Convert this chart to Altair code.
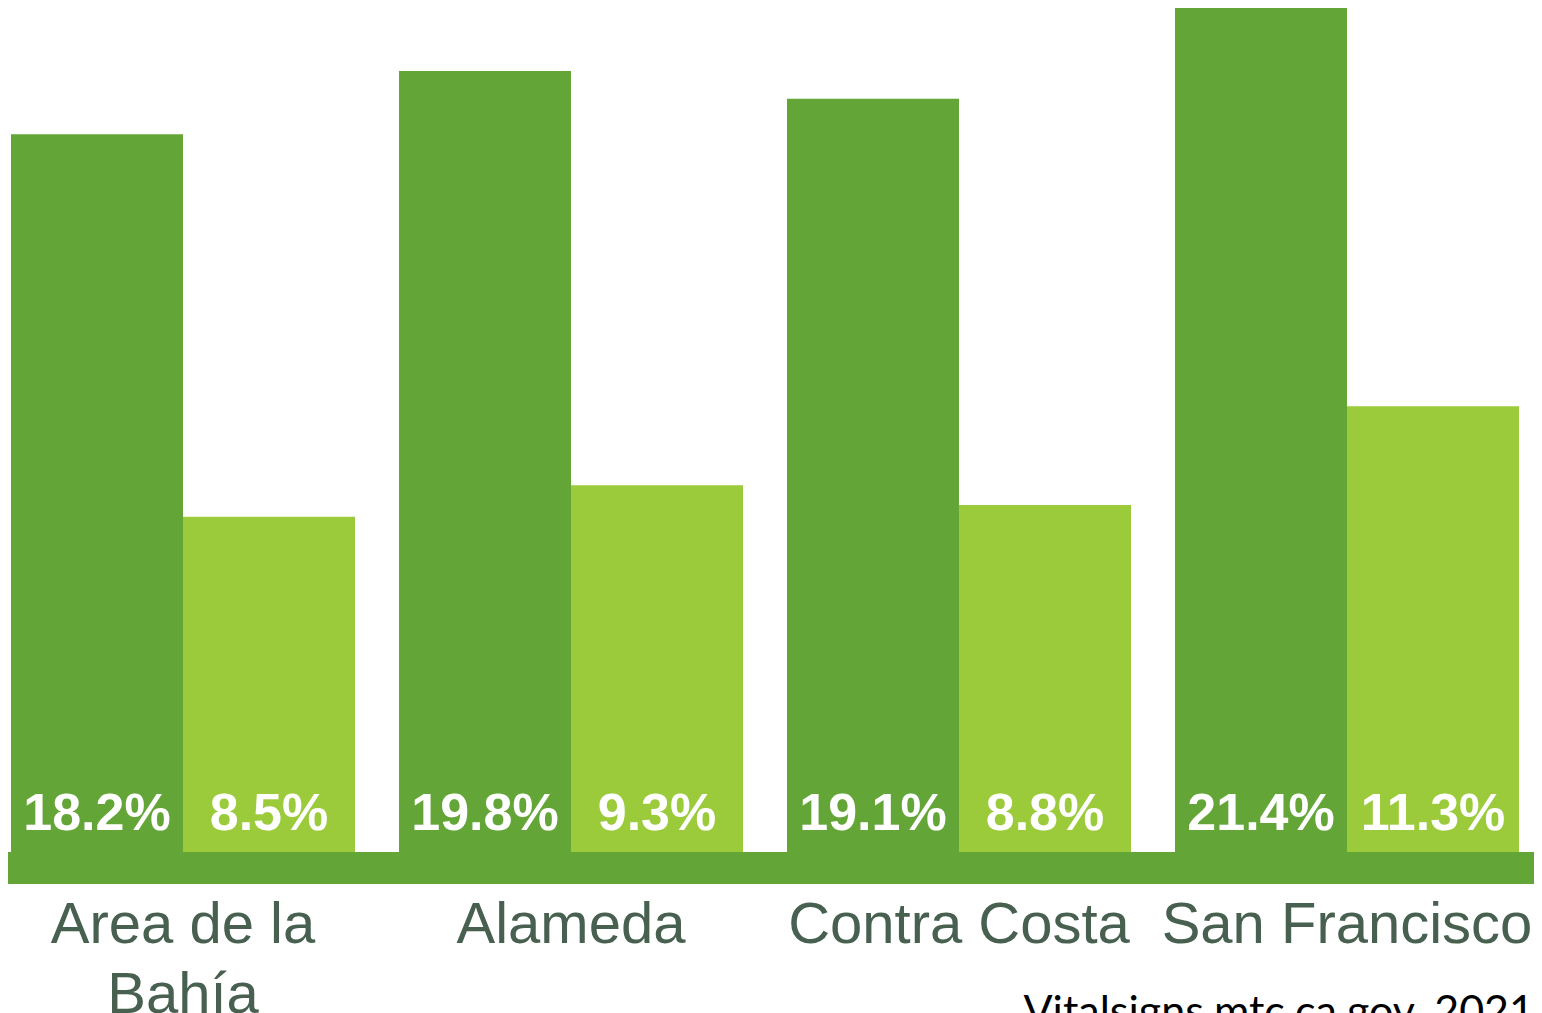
import altair as alt
import pandas as pd

categories = ["Area de la Bahía", "Alameda", "Contra Costa", "San Francisco"]
series = ["A", "B"]
values_a = [18.2, 19.8, 19.1, 21.4]
values_b = [8.5, 9.3, 8.8, 11.3]
labels_a = ["18.2%", "19.8%", "19.1%", "21.4%"]
labels_b = ["8.5%", "9.3%", "8.8%", "11.3%"]
source_text = "Vitalsigns.mtc.ca.gov, 2021"

rows = []
for c, va, vb, la, lb in zip(categories, values_a, values_b, labels_a, labels_b):
    rows.append({"Category": c, "Series": "A", "Value": va, "Label": la})
    rows.append({"Category": c, "Series": "B", "Value": vb, "Label": lb})
df = pd.DataFrame(rows)

DARK = "#63A537"
LIGHT = "#9BCB3B"
TXT = "#48604F"

W = 1514
H = 844

x_enc = alt.X(
    "Category:N",
    sort=categories,
    title=None,
    scale=alt.Scale(paddingInner=0.1134, paddingOuter=0.0077),
    axis=alt.Axis(
        domain=False,
        ticks=False,
        tickSize=0,
        labelAngle=0,
        labelFont="Liberation Sans",
        labelFontSize=58,
        labelColor=TXT,
        labelPadding=44,
        labelLineHeight=70,
        labelLimit=1000,
        labelExpr="datum.value == 'Area de la Bahía' ? ['Area de la', 'Bahía'] : datum.label",
    ),
)
xoff = alt.XOffset("Series:N", sort=series, scale=alt.Scale(paddingInner=0, paddingOuter=0))

base = alt.Chart(df)

bars = base.mark_bar().encode(
    x=x_enc,
    xOffset=xoff,
    y=alt.Y("Value:Q", scale=alt.Scale(domain=[0, 21.4], nice=False, zero=True), axis=None),
    color=alt.Color("Series:N", scale=alt.Scale(domain=series, range=[DARK, LIGHT]), legend=None),
)

texts = base.mark_text(
    font="Liberation Sans", fontSize=52, fontWeight="bold", color="white", baseline="alphabetic", align="center"
).encode(
    x=alt.X("Category:N", sort=categories),
    xOffset=alt.XOffset("Series:N", sort=series),
    y=alt.value(822),
    text="Label:N",
)

band = alt.Chart(pd.DataFrame({"k": [0]})).mark_rect(color=DARK).encode(
    x=alt.value(0), x2=alt.value(W + 12), y=alt.value(H), y2=alt.value(H + 32)
)

src = alt.Chart(pd.DataFrame({"t": [source_text]})).mark_text(
    font="Lato", fontSize=43, color="black", align="right", baseline="alphabetic"
).encode(x=alt.value(1526), y=alt.value(1018), text="t:N")

chart = (
    alt.layer(bars, texts, band, src)
    .properties(
        width=W,
        height=H,
        autosize=alt.AutoSizeParams(type="none"),
        padding={"left": 0, "top": 0, "right": 12, "bottom": 200},
        background="white",
    )
    .configure_view(stroke=None)
)

chart.save("out.html", embed_options={"renderer": "svg", "actions": False})
